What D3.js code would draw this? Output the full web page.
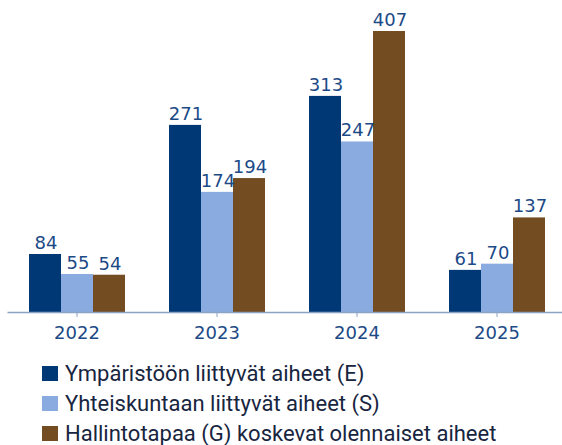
<!DOCTYPE html>
<html>
<head>
<meta charset="utf-8">
<script src="https://cdn.jsdelivr.net/npm/d3@7"></script>
<style>
  body { margin: 0; background: #fff; }
  svg { display: block; }
</style>
</head>
<body>
<svg id="chart"></svg>
<script>
const years = ["2022", "2023", "2024", "2025"];
const seriesNames = [
  "Ympäristöön liittyvät aiheet (E)",
  "Yhteiskuntaan liittyvät aiheet (S)",
  "Hallintotapaa (G) koskevat olennaiset aiheet"
];
const envValues = [84, 271, 313, 61];
const socValues = [55, 174, 247, 70];
const govValues = [54, 194, 407, 137];
const colors = ["#003876", "#8aabdf", "#734c21"];

const width = 562, height = 445;
const baseY = 312;
const svg = d3.select("#chart").attr("width", width).attr("height", height);

const series = [envValues, socValues, govValues];

const x = d3.scaleBand().domain(years).range([7, 567]).paddingInner(0).paddingOuter(0);
const inner = d3.scaleBand().domain([0, 1, 2]).range([0, 96]);
const y = d3.scaleLinear().domain([0, 407]).range([baseY, 31]);

const groups = svg.append("g").selectAll("g")
  .data(years)
  .join("g")
  .attr("transform", d => "translate(" + (x(d) + x.bandwidth() / 2 - 48) + ",0)");

groups.selectAll("rect")
  .data((d, i) => series.map((s, k) => ({k: k, v: s[i]})))
  .join("rect")
  .attr("x", d => inner(d.k))
  .attr("width", inner.bandwidth())
  .attr("y", d => y(d.v))
  .attr("height", d => baseY - y(d.v))
  .attr("fill", d => colors[d.k]);

groups.selectAll("text")
  .data((d, i) => series.map((s, k) => ({k: k, v: s[i]})))
  .join("text")
  .attr("x", d => inner(d.k) + inner.bandwidth() / 2 + 1)
  .attr("y", d => y(d.v) - 5)
  .attr("text-anchor", "middle")
  .attr("font-family", "'DejaVu Sans'")
  .attr("font-size", 18)
  .attr("fill", "#1c4a87")
  .text(d => d.v);

const xAxis = svg.append("g")
  .attr("transform", "translate(0," + baseY + ")")
  .call(d3.axisBottom(x).tickSize(5).tickSizeOuter(0));
xAxis.select(".domain").attr("stroke", "#8ca2c4").attr("stroke-width", 1.5);
xAxis.selectAll(".tick line").attr("stroke", "#8ca2c4");
xAxis.selectAll(".tick text")
  .attr("font-family", "'DejaVu Sans'")
  .attr("font-size", 18)
  .attr("fill", "#1c4a87")
  .attr("y", 10)
  .attr("dy", "0.95em");

const legend = svg.append("g").selectAll("g")
  .data(seriesNames)
  .join("g")
  .attr("transform", (d, i) => "translate(42," + (366 + i * 30) + ")");
legend.append("rect")
  .attr("width", 16).attr("height", 15)
  .attr("fill", (d, i) => colors[i]);
legend.append("text")
  .attr("x", 23).attr("y", 15)
  .attr("font-family", "Roboto")
  .attr("font-size", 22)
  .attr("fill", "#18253f")
  .text(d => d);
</script>
</body>
</html>
